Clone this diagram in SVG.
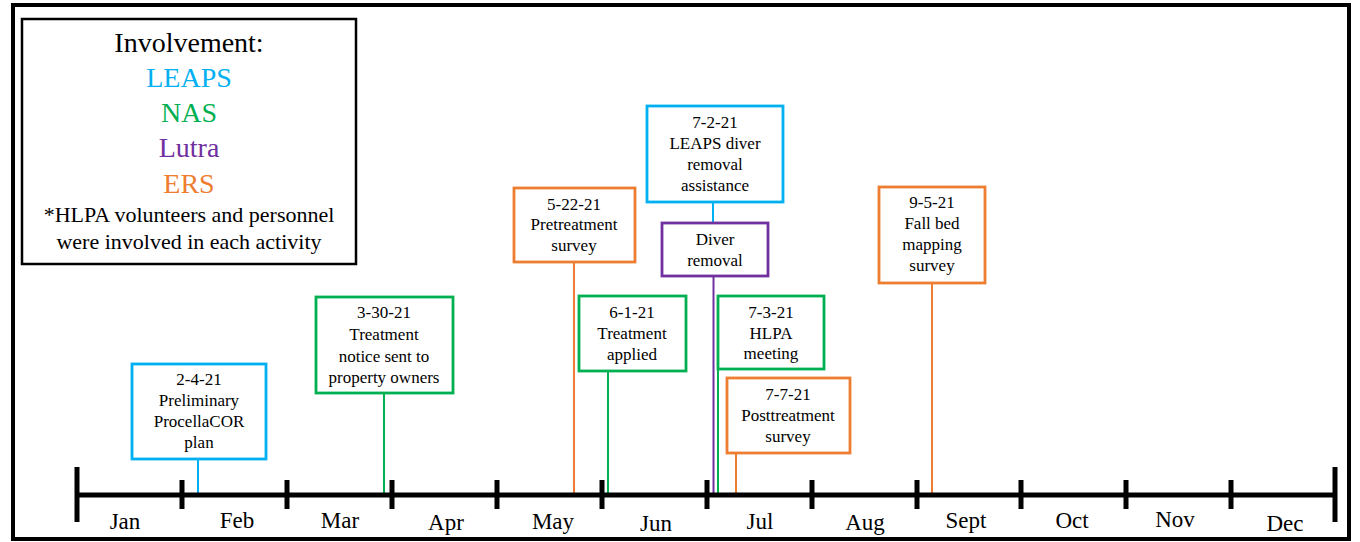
<svg xmlns="http://www.w3.org/2000/svg" width="1360" height="542" viewBox="0 0 1360 542">
<style>
text{font-family:"Liberation Serif","Times New Roman",Tinos,"DejaVu Serif",serif;text-anchor:middle;fill:#000}
.lg{font-size:28px}
.nt{font-size:22px}
.bx{font-size:17px}
.mo{font-size:23px}
.box{fill:#fff;stroke-width:2.8}
.blue{stroke:#00B0F0}
.green{stroke:#00B050}
.purple{stroke:#7030A0}
.orange{stroke:#ED7D31}
.con line{stroke-width:2}
.axis line{stroke:#000;stroke-width:5}
</style>
<rect x="0" y="0" width="1360" height="542" fill="#fff"/>
<rect x="13" y="5" width="1336" height="534" fill="none" stroke="#000" stroke-width="4"/>
<g id="legend" font-family="Liberation Serif, Times New Roman, DejaVu Serif, serif">
<rect x="22" y="19" width="334" height="245" fill="#fff" stroke="#000" stroke-width="2.5"/>
<text class="lg" x="189" y="52">Involvement:</text>
<text class="lg" x="189" y="87" style="fill:#00B0F0">LEAPS</text>
<text class="lg" x="189" y="122" style="fill:#00B050">NAS</text>
<text class="lg" x="189" y="157" style="fill:#7030A0">Lutra</text>
<text class="lg" x="189" y="193" style="fill:#ED7D31">ERS</text>
<text class="nt" x="189" y="222">*HLPA volunteers and personnel</text>
<text class="nt" x="189" y="249">were involved in each activity</text>
</g>
<g id="connectors" class="con">
<line class="blue" x1="198" y1="459" x2="198" y2="495"/>
<line class="green" x1="384" y1="393" x2="384" y2="495"/>
<line class="orange" x1="574" y1="262" x2="574" y2="495"/>
<line class="green" x1="608" y1="371" x2="608" y2="495"/>
<line class="blue" x1="713" y1="202" x2="713" y2="223"/>
<line class="purple" x1="713.5" y1="276" x2="713.5" y2="495"/>
<line class="green" x1="718" y1="369" x2="718" y2="495"/>
<line class="orange" x1="736" y1="453" x2="736" y2="495"/>
<line class="orange" x1="932" y1="283" x2="932" y2="495"/>
</g>
<g id="axis" class="axis">
<line x1="77" y1="495" x2="1335" y2="495"/>
<line x1="77" y1="467" x2="77" y2="522"/>
<line x1="1335" y1="467" x2="1335" y2="522"/>
<line x1="182" y1="480" x2="182" y2="509"/>
<line x1="287" y1="480" x2="287" y2="509"/>
<line x1="392" y1="480" x2="392" y2="509"/>
<line x1="497" y1="480" x2="497" y2="509"/>
<line x1="602" y1="480" x2="602" y2="509"/>
<line x1="707" y1="480" x2="707" y2="509"/>
<line x1="812" y1="480" x2="812" y2="509"/>
<line x1="917" y1="480" x2="917" y2="509"/>
<line x1="1021" y1="480" x2="1021" y2="509"/>
<line x1="1126" y1="480" x2="1126" y2="509"/>
<line x1="1231" y1="480" x2="1231" y2="509"/>
</g>
<g id="months">
<text class="mo" x="125" y="529">Jan</text>
<text class="mo" x="237" y="528">Feb</text>
<text class="mo" x="340" y="528">Mar</text>
<text class="mo" x="446" y="530">Apr</text>
<text class="mo" x="553" y="529">May</text>
<text class="mo" x="656" y="531">Jun</text>
<text class="mo" x="760" y="529">Jul</text>
<text class="mo" x="865" y="530">Aug</text>
<text class="mo" x="966" y="528">Sept</text>
<text class="mo" x="1072" y="528">Oct</text>
<text class="mo" x="1175" y="527">Nov</text>
<text class="mo" x="1285" y="531">Dec</text>
</g>
<g id="e-2-4-21">
<rect class="box blue" x="132" y="364" width="134" height="95"/>
<text class="bx" x="199" y="385">2-4-21</text>
<text class="bx" x="199" y="406">Preliminary</text>
<text class="bx" x="199" y="427">ProcellaCOR</text>
<text class="bx" x="199" y="448">plan</text>
</g>
<g id="e-3-30-21">
<rect class="box green" x="316" y="297" width="137" height="96"/>
<text class="bx" x="384" y="318">3-30-21</text>
<text class="bx" x="384" y="340">Treatment</text>
<text class="bx" x="384" y="362">notice sent to</text>
<text class="bx" x="384" y="383">property owners</text>
</g>
<g id="e-5-22-21">
<rect class="box orange" x="514" y="188" width="121" height="74"/>
<text class="bx" x="574" y="210">5-22-21</text>
<text class="bx" x="574" y="230">Pretreatment</text>
<text class="bx" x="574" y="251">survey</text>
</g>
<g id="e-7-2-21">
<rect class="box blue" x="647" y="106" width="136" height="96"/>
<text class="bx" x="715" y="128">7-2-21</text>
<text class="bx" x="715" y="149">LEAPS diver</text>
<text class="bx" x="715" y="170">removal</text>
<text class="bx" x="715" y="191">assistance</text>
</g>
<g id="e-diver-removal">
<rect class="box purple" x="662" y="223" width="106" height="53"/>
<text class="bx" x="715" y="245">Diver</text>
<text class="bx" x="715" y="266">removal</text>
</g>
<g id="e-6-1-21">
<rect class="box green" x="579" y="296" width="107" height="75"/>
<text class="bx" x="632" y="318">6-1-21</text>
<text class="bx" x="632" y="339">Treatment</text>
<text class="bx" x="632" y="360">applied</text>
</g>
<g id="e-7-3-21">
<rect class="box green" x="718" y="296" width="106" height="73"/>
<text class="bx" x="771" y="318">7-3-21</text>
<text class="bx" x="771" y="339">HLPA</text>
<text class="bx" x="771" y="359">meeting</text>
</g>
<g id="e-7-7-21">
<rect class="box orange" x="727" y="378" width="123" height="75"/>
<text class="bx" x="788" y="400">7-7-21</text>
<text class="bx" x="788" y="421">Posttreatment</text>
<text class="bx" x="788" y="442">survey</text>
</g>
<g id="e-9-5-21">
<rect class="box orange" x="879" y="187" width="106" height="96"/>
<text class="bx" x="932" y="208">9-5-21</text>
<text class="bx" x="932" y="229">Fall bed</text>
<text class="bx" x="932" y="250">mapping</text>
<text class="bx" x="932" y="271">survey</text>
</g>
</svg>
